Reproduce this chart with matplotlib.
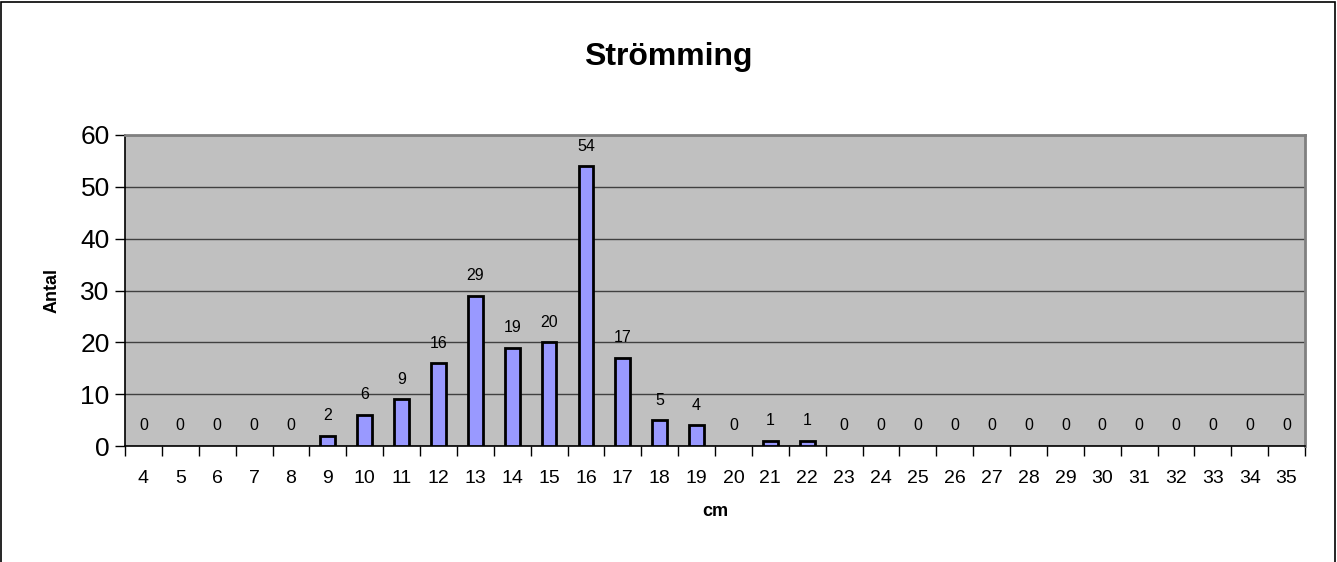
import matplotlib.pyplot as plt
from matplotlib.patches import Rectangle

plt.rcParams['font.family'] = ['Liberation Sans', 'DejaVu Sans']

# längdklasser (cm) och antal fiskar
cm = list(range(4, 36))
antal = [0, 0, 0, 0, 0, 2, 6, 9, 16, 29, 19, 20, 54, 17, 5, 4,
         0, 1, 1, 0, 0, 0, 0, 0, 0, 0, 0, 0, 0, 0, 0, 0]

fig = plt.figure(figsize=(13.37, 5.62), dpi=100)
ax = fig.add_axes([125 / 1337, 116 / 562, 1180 / 1337, 311 / 562])

x = list(range(len(cm)))
ax.set_facecolor('#c0c0c0')
lw = [2 if v > 0 else 0 for v in antal]
ax.bar(x, antal, width=0.4, color='#9999ff', edgecolor='black', linewidth=lw, zorder=3)

for xi, v in zip(x, antal):
    ax.annotate(str(v), (xi, v), xytext=(0, 9), textcoords='offset points',
                ha='center', va='bottom', fontsize=11.5, zorder=4)

ax.set_xlim(-0.5, len(cm) - 0.5)
ax.set_ylim(0, 60)
ax.set_yticks(range(0, 61, 10))
ax.set_yticklabels([str(v) for v in range(0, 61, 10)], fontsize=19)
ax.set_xticks(x)
ax.set_xticklabels([str(c) for c in cm], fontsize=14)
ax.tick_params(axis='x', length=0, pad=17)
ax.set_xticks([i - 0.5 for i in range(len(cm) + 1)], minor=True)
ax.tick_params(axis='x', which='minor', length=7, width=1, direction='out')
ax.tick_params(axis='y', length=7, width=1, direction='out', pad=4)

ax.yaxis.grid(True, color='#404040', linewidth=1, zorder=1)
ax.set_axisbelow(True)

for s in ['top', 'right']:
    ax.spines[s].set_color('#808080')
    ax.spines[s].set_linewidth(2)
for s in ['left', 'bottom']:
    ax.spines[s].set_color('black')
    ax.spines[s].set_linewidth(1.2)

ax.set_xlabel('cm', fontsize=13, fontweight='bold', labelpad=12)
ax.set_ylabel('Antal', fontsize=13, fontweight='bold', labelpad=14)
fig.text(0.5, 1 - 57 / 562, 'Strömming', ha='center', va='center',
         fontsize=23, fontweight='bold')

fig.patches.append(Rectangle((1 / 1337, -0.05), 1334 / 1337, 1.05 - 1.5 / 562,
                             transform=fig.transFigure, fill=False,
                             edgecolor='black', linewidth=1.2))

fig.savefig('out.png', dpi=100)
